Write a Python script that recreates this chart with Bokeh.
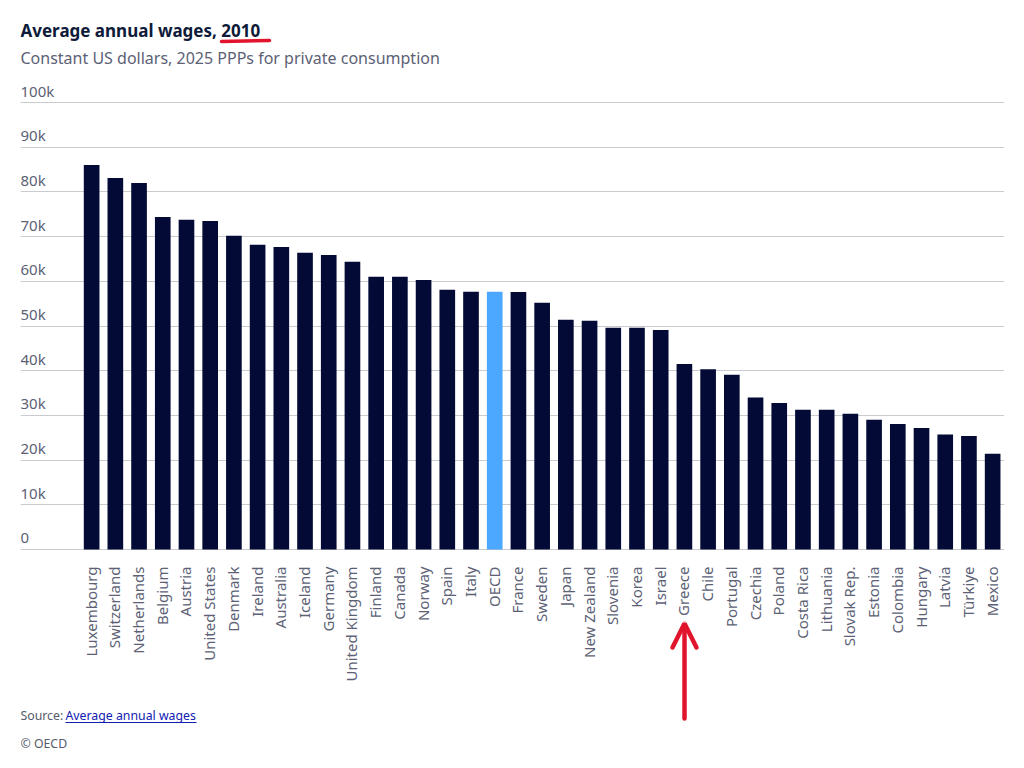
import math
from bokeh.plotting import figure
from bokeh.models import ColumnDataSource, FixedTicker, Range1d, Label, Arrow, OpenHead, Grid
from bokeh.embed import file_html
from bokeh.resources import INLINE
from bokeh.core.properties import value

# ---------------- data ----------------
countries = [
    "Luxembourg", "Switzerland", "Netherlands", "Belgium", "Austria", "United States",
    "Denmark", "Ireland", "Australia", "Iceland", "Germany", "United Kingdom",
    "Finland", "Canada", "Norway", "Spain", "Italy", "OECD", "France", "Sweden",
    "Japan", "New Zealand", "Slovenia", "Korea", "Israel", "Greece", "Chile",
    "Portugal", "Czechia", "Poland", "Costa Rica", "Lithuania", "Slovak Rep.",
    "Estonia", "Colombia", "Hungary", "Latvia", "Türkiye", "Mexico",
]
wages = [
    86000, 83100, 82000, 74400, 73750, 73500,
    70200, 68200, 67700, 66400, 65900, 64400,
    61000, 61000, 60300, 58100, 57650, 57650, 57600, 55200,
    51400, 51200, 49600, 49600, 49100, 41500, 40300,
    39100, 34000, 32800, 31250, 31250, 30350,
    29000, 28100, 27200, 25700, 25400, 21400,
]
y_ticks = [0, 10000, 20000, 30000, 40000, 50000, 60000, 70000, 80000, 90000, 100000]
y_tick_labels = ["0", "10k", "20k", "30k", "40k", "50k", "60k", "70k", "80k", "90k", "100k"]
highlight = "OECD"

title_text = "Average annual wages, 2010"
subtitle_text = "Constant US dollars, 2025 PPPs for private consumption"
source_prefix = "Source:"
source_link = "Average annual wages"
copyright_text = "© OECD"

# ---------------- layout & styles ----------------
W, H = 1016, 760
LEFT, RIGHT = 20, 1004           # frame horizontal extent (px)
ZERO_PX, TOP_TICK_PX = 549, 102  # pixel rows of 0 and 100k
FONT = "Noto Sans"
BAR = "#020a35"
HIGHLIGHT = "#4ca7ff"
GRID = "#c9cbcf"
LABEL = "#5c6175"
TITLE = "#0e1a3a"
FOOT = "#555b6b"
LINK = "#1020b0"
RED = "#e0142c"

px_per_unit = (ZERO_PX - TOP_TICK_PX) / y_ticks[-1]
y_top = ZERO_PX / px_per_unit
y_bottom = -(H - ZERO_PX) / px_per_unit

n = len(countries)
idx = list(range(n))
colors = [HIGHLIGHT if c == highlight else BAR for c in countries]
src = ColumnDataSource(dict(x=idx, top=wages, country=countries, color=colors))

p = figure(
    width=W, height=H, output_backend="svg", toolbar_location=None,
    x_range=Range1d(-3.0, n - 0.5), y_range=Range1d(y_bottom, y_top),
    x_axis_location=None, y_axis_location=None,
    min_border_left=LEFT, min_border_right=W - RIGHT, min_border_top=0, min_border_bottom=0,
)
p.outline_line_color = None
p.background_fill_color = "white"
p.border_fill_color = "white"
p.grid.visible = False
p.add_layout(Grid(dimension=1, ticker=FixedTicker(ticks=y_ticks),
                  grid_line_color=GRID, grid_line_width=1))

p.vbar(x="x", top="top", width=0.66, fill_color="color", line_color=None, source=src)

# y tick labels sitting on top of gridlines
p.text(x=[p.x_range.start] * len(y_ticks), y=y_ticks, text=y_tick_labels,
       text_font=value(FONT), text_font_size="15px", text_color=LABEL,
       text_align="left", text_baseline="alphabetic", y_offset=-12)

# category labels, vertical, below the zero line
p.text(x="x", y=0, text="country", source=src, angle=math.pi / 2,
       text_font=value(FONT), text_font_size="15px", text_color=LABEL,
       text_align="right", text_baseline="middle", y_offset=17, x_offset=-1)

# helpers: page pixel -> screen units relative to frame bottom-left
def sy(page_y):
    return H - page_y

def sx(page_x):
    return page_x - LEFT

p.add_layout(Label(x=sx(20), y=sy(29.5), x_units="screen", y_units="screen", text=title_text,
                   text_font=FONT, text_font_size="17px", text_font_style="bold",
                   text_color=TITLE, text_baseline="alphabetic"))
p.add_layout(Label(x=sx(20), y=sy(57), x_units="screen", y_units="screen", text=subtitle_text,
                   text_font=FONT, text_font_size="16px", text_color=LABEL,
                   text_baseline="alphabetic"))
# red hand-drawn underline under the year
p.add_layout(Arrow(x_start=sx(221), y_start=sy(41), x_end=sx(269), y_end=sy(40),
                   start_units="screen", end_units="screen", start=None, end=None,
                   line_color=RED, line_width=3.5, line_cap="round"))

# footer
p.add_layout(Label(x=sx(20), y=sy(715), x_units="screen", y_units="screen", text=source_prefix,
                   text_font=FONT, text_font_size="12.3px", text_color=FOOT,
                   text_baseline="alphabetic"))
p.add_layout(Label(x=sx(65), y=sy(715), x_units="screen", y_units="screen", text=source_link,
                   text_font=FONT, text_font_size="12.3px", text_color=LINK,
                   text_baseline="alphabetic"))
p.add_layout(Arrow(x_start=sx(65), y_start=sy(722), x_end=sx(196), y_end=sy(722),
                   start_units="screen", end_units="screen", start=None, end=None,
                   line_color=LINK, line_width=1))
p.add_layout(Label(x=sx(20), y=sy(743), x_units="screen", y_units="screen", text=copyright_text,
                   text_font=FONT, text_font_size="12.3px", text_color=FOOT,
                   text_baseline="alphabetic"))

# red arrow pointing at the marked country label
p.add_layout(Arrow(x_start=sx(684), y_start=sy(718), x_end=sx(684), y_end=sy(623),
                   start_units="screen", end_units="screen",
                   end=OpenHead(size=24, line_color=RED, line_width=4.5, line_cap="round"),
                   line_color=RED, line_width=4.5, line_cap="round"))

open("out.html", "w").write(file_html(p, INLINE))
